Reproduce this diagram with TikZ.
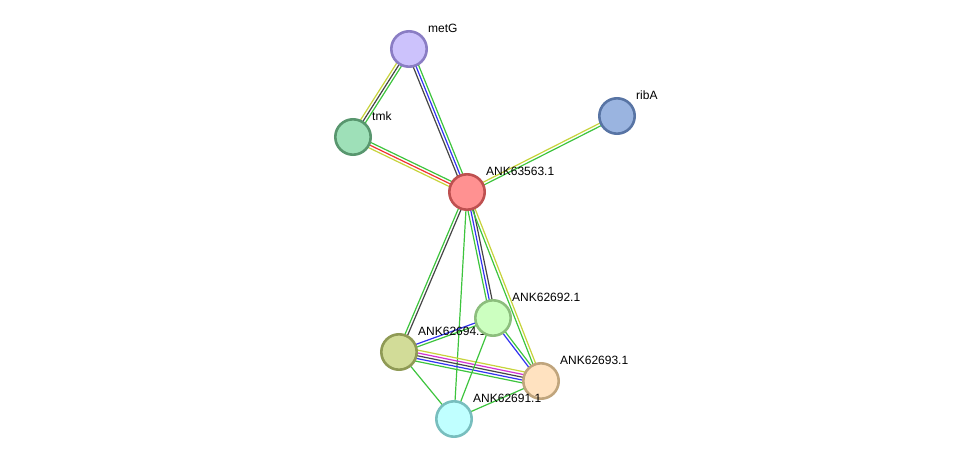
\documentclass[tikz,border=0pt]{standalone}
\usepackage{fontspec}
\setmainfont{Liberation Sans}
\usetikzlibrary{calc, backgrounds}

\definecolor{cGreen}{RGB}{61,196,61}
\definecolor{cYel}{RGB}{199,211,58}
\definecolor{cDark}{RGB}{70,70,70}
\definecolor{cBlue}{RGB}{50,50,240}
\definecolor{cRed}{RGB}{240,50,50}
\definecolor{cMag}{RGB}{210,50,210}

\begin{document}
\begin{tikzpicture}[
    x=1pt, y=1pt,
    prot/.style ={circle, line width=2.6pt, minimum size=35.4pt, inner sep=0pt},
    lbl/.style  ={anchor=west, inner sep=0pt, font=\fontsize{12}{14}\selectfont},
    link/.style ={line width=1.2pt}
]
\useasboundingbox (0,0) rectangle (976,-465);

% Proteins, each followed by its name
\node[prot, fill={rgb,255:red,204;green,194;blue,252}, draw={rgb,255:red,138;green,125;blue,196}] (metG) at (409,-49) {};
\node[lbl] (metG-l) at ($(metG)+(19,21)$) {metG};
\node[prot, fill={rgb,255:red,158;green,224;blue,184}, draw={rgb,255:red,88;green,150;blue,110}] (tmk) at (353,-137) {};
\node[lbl] (tmk-l) at ($(tmk)+(19,21)$) {tmk};
\node[prot, fill={rgb,255:red,154;green,180;blue,224}, draw={rgb,255:red,88;green,116;blue,164}] (ribA) at (617,-116) {};
\node[lbl] (ribA-l) at ($(ribA)+(19,21)$) {ribA};
\node[prot, fill={rgb,255:red,255;green,145;blue,145}, draw={rgb,255:red,190;green,80;blue,80}] (a63563) at (467,-192) {};
\node[lbl] (a63563-l) at ($(a63563)+(19,21)$) {ANK63563.1};
\node[prot, fill={rgb,255:red,210;green,220;blue,152}, draw={rgb,255:red,143;green,154;blue,85}] (a62694) at (399,-352) {};
\node[lbl] (a62694-l) at ($(a62694)+(19,21)$) {ANK62694.1};
\node[prot, fill={rgb,255:red,204;green,255;blue,192}, draw={rgb,255:red,140;green,190;blue,125}] (a62692) at (493,-318) {};
\node[lbl] (a62692-l) at ($(a62692)+(19,21)$) {ANK62692.1};
\node[prot, fill={rgb,255:red,255;green,226;blue,192}, draw={rgb,255:red,192;green,165;blue,125}] (a62693) at (541,-381) {};
\node[lbl] (a62693-l) at ($(a62693)+(19,21)$) {ANK62693.1};
\node[prot, fill={rgb,255:red,192;green,255;blue,255}, draw={rgb,255:red,120;green,190;blue,190}] (a62691) at (454,-419) {};
\node[lbl] (a62691-l) at ($(a62691)+(19,21)$) {ANK62691.1};

% Links: one parallel line per evidence colour
\begin{scope}[on background layer]
\foreach \a/\b/\n/\cols in {
    metG/tmk/3/{cYel,cDark,cGreen},
    metG/a63563/3/{cDark,cBlue,cGreen},
    tmk/a63563/3/{cYel,cRed,cGreen},
    a63563/ribA/2/{cGreen,cYel},
    a63563/a62694/2/{cGreen,cDark},
    a63563/a62692/3/{cGreen,cBlue,cDark},
    a63563/a62693/2/{cGreen,cYel},
    a63563/a62691/1/{cGreen},
    a62694/a62692/2/{cGreen,cBlue},
    a62694/a62693/5/{cGreen,cBlue,cDark,cMag,cYel},
    a62692/a62693/2/{cBlue,cGreen},
    a62694/a62691/1/{cGreen},
    a62692/a62691/1/{cGreen},
    a62691/a62693/1/{cGreen}}
  \foreach \c [count=\i] in \cols {
    \pgfmathsetmacro\off{(\i-(\n+1)/2)*2.8}
    \draw[link, \c] ($(\a)!\off pt!90:(\b)$) -- ($(\b)!\off pt!-90:(\a)$);
  }
\end{scope}

\end{tikzpicture}
\end{document}
